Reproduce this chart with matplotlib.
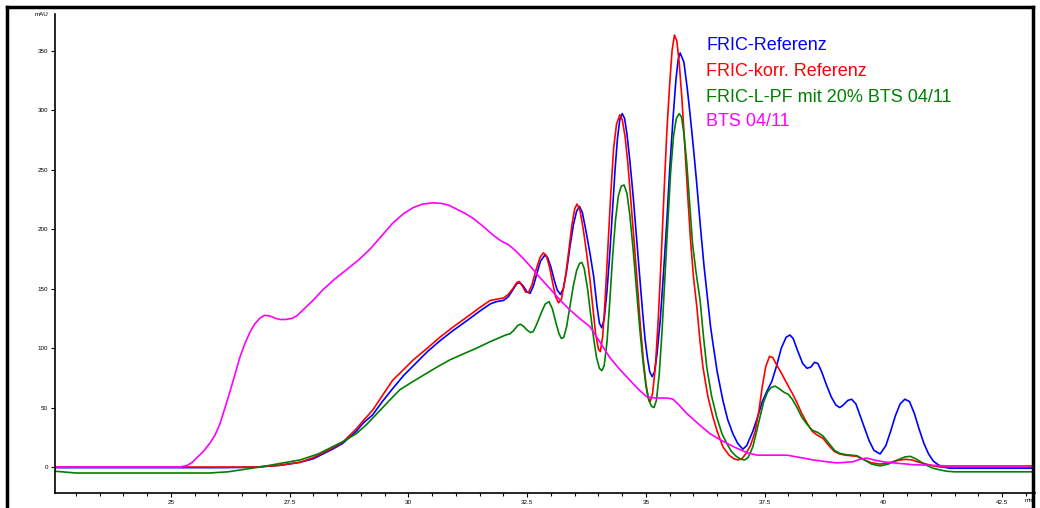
import matplotlib
matplotlib.use("Agg")
import matplotlib.pyplot as plt
from matplotlib.lines import Line2D
from matplotlib.ticker import MultipleLocator, FuncFormatter

plt.rcParams['font.family'] = ['Liberation Sans', 'DejaVu Sans']

# ---- data (time in min, signal in mAU) ----
blue_t = [22.56, 26.0, 26.5, 26.8, 27.3, 27.72, 28.0, 28.2, 28.4, 28.62, 28.9, 29.05, 29.25, 29.45, 29.67, 29.9,
          30.1, 30.4, 30.66, 30.95, 31.23, 31.5, 31.72, 31.85, 32.0, 32.1, 32.2, 32.28, 32.35, 32.42, 32.5, 32.56,
          32.63, 32.7, 32.78, 32.87, 32.93, 33.0, 33.07, 33.13, 33.2, 33.26, 33.33, 33.4, 33.47, 33.54, 33.6, 33.66,
          33.73, 33.82, 33.9, 33.97, 34.02, 34.07, 34.12, 34.18, 34.24, 34.3, 34.35, 34.4, 34.45, 34.5, 34.55, 34.6,
          34.66, 34.73, 34.8, 34.87, 34.93, 34.98, 35.03, 35.08, 35.13, 35.18, 35.23, 35.3, 35.37, 35.44, 35.5, 35.57,
          35.63, 35.68, 35.72, 35.8, 35.87, 35.93, 36.0, 36.07, 36.14, 36.22, 36.3, 36.36, 36.41, 36.5, 36.62, 36.72,
          36.83, 36.93, 37.04, 37.12, 37.25, 37.35, 37.45, 37.55, 37.65, 37.75, 37.85, 37.95, 38.03, 38.1, 38.2, 38.3,
          38.39, 38.47, 38.55, 38.62, 38.7, 38.8, 38.9, 39.0, 39.08, 39.15, 39.25, 39.33, 39.42, 39.5, 39.6, 39.7,
          39.8, 39.93, 40.05, 40.15, 40.25, 40.35, 40.45, 40.55, 40.65, 40.75, 40.85, 40.95, 41.05, 41.15, 41.25, 41.4,
          43.19]
blue_v = [-0.5, -0.5, -0.3, 0, 1.5, 4, 7, 11, 15, 20, 30, 37, 44, 55, 66, 77,
          85, 97, 106, 115, 123, 131, 137, 139, 140, 143, 149, 154, 155, 152, 147, 146,
          152, 162, 173, 178, 176, 168, 157, 149, 145, 150, 165, 185, 203, 215, 219, 214,
          200, 180, 160, 135, 121, 117, 124, 148, 180, 218, 250, 276, 292, 297, 293, 280,
          258, 228, 194, 160, 130, 108, 92, 80, 76, 80, 94, 123, 163, 207, 250, 293,
          325, 343, 348, 340, 318, 296, 268, 238, 205, 170, 140, 118, 104, 80, 56, 40,
          28, 20, 15, 18, 30, 42, 55, 64, 72, 85, 100, 109, 111, 108, 97, 87,
          83, 84, 88, 87, 80, 69, 59, 52, 50, 52, 56, 57, 53, 44, 33, 22,
          14, 11, 18, 30, 43, 53, 57, 55, 45, 32, 20, 11, 5, 2, 0, -1,
          -1]

red_t = [22.56, 26.8, 27.3, 27.72, 28.0, 28.2, 28.4, 28.62, 28.9, 29.05, 29.25, 29.45, 29.67, 29.9, 30.1, 30.4,
         30.66, 30.95, 31.23, 31.5, 31.72, 31.85, 32.0, 32.1, 32.2, 32.28, 32.33, 32.4, 32.47, 32.53, 32.6, 32.68,
         32.77, 32.84, 32.9, 32.97, 33.04, 33.1, 33.16, 33.22, 33.3, 33.37, 33.44, 33.5, 33.55, 33.61, 33.68, 33.75,
         33.82, 33.88, 33.94, 34.0, 34.04, 34.09, 34.14, 34.2, 34.26, 34.32, 34.38, 34.45, 34.5, 34.56, 34.62, 34.68,
         34.75, 34.82, 34.88, 34.94, 35.0, 35.05, 35.09, 35.14, 35.2, 35.26, 35.32, 35.38, 35.44, 35.5, 35.55, 35.6,
         35.65, 35.7, 35.76, 35.82, 35.88, 35.94, 36.0, 36.07, 36.14, 36.2, 36.3, 36.41, 36.5, 36.62, 36.75, 36.85,
         36.94, 37.02, 37.1, 37.2, 37.3, 37.38, 37.45, 37.52, 37.6, 37.67, 37.75, 37.85, 37.97, 38.08, 38.18, 38.28,
         38.39, 38.5, 38.6, 38.73, 38.85, 38.97, 39.08, 39.2, 39.32, 39.44, 39.6, 39.75, 39.93, 40.1, 40.3, 40.45,
         40.6, 40.75, 40.9, 41.05, 41.2, 43.19]
red_v = [0, 0, 1.5, 4, 8, 12, 16, 21, 32, 39, 48, 60, 73, 82, 90, 100,
         109, 118, 126, 134, 140, 141, 142, 145, 150, 155, 156, 152, 147, 147, 153, 165,
         176, 180, 178, 168, 154, 143, 138, 141, 158, 180, 203, 217, 221, 216, 200, 180,
         158, 135, 112, 99, 97, 110, 140, 185, 230, 268, 288, 296, 292, 278, 255, 225,
         190, 153, 120, 92, 70, 58, 55, 62, 85, 125, 175, 230, 282, 322, 350, 363,
         358, 340, 308, 268, 228, 190, 160, 135, 105, 84, 60, 42, 30, 17, 10, 7,
         6, 7, 11, 18, 30, 48, 68, 84, 93, 92, 86, 79, 70, 62, 54, 45,
         37, 30, 27, 24, 18, 13, 11, 10, 9.5, 9, 6, 3.5, 2.5, 3.5, 5.5, 6.5,
         6, 4, 2.5, 1, 0, 0]

green_t = [22.56, 23.0, 25.8, 26.2, 26.45, 26.87, 27.3, 27.72, 28.1, 28.4, 28.65, 28.9, 29.1, 29.34, 29.6, 29.82,
           30.1, 30.39, 30.6, 30.87, 31.15, 31.44, 31.7, 31.93, 32.05, 32.14, 32.22, 32.3, 32.36, 32.43, 32.5, 32.57,
           32.63, 32.7, 32.8, 32.88, 32.96, 33.03, 33.1, 33.17, 33.22, 33.27, 33.33, 33.4, 33.47, 33.54, 33.6, 33.65,
           33.7, 33.77, 33.83, 33.9, 33.96, 34.02, 34.07, 34.12, 34.18, 34.24, 34.3, 34.36, 34.42, 34.48, 34.54, 34.6,
           34.66, 34.73, 34.8, 34.87, 34.94, 35.0, 35.06, 35.12, 35.17, 35.22, 35.28, 35.34, 35.4, 35.46, 35.52, 35.58,
           35.64, 35.7, 35.75, 35.8, 35.86, 35.92, 35.98, 36.05, 36.14, 36.21, 36.28, 36.38, 36.49, 36.6, 36.7, 36.8,
           36.9, 37.0, 37.08, 37.15, 37.25, 37.33, 37.4, 37.48, 37.56, 37.64, 37.72, 37.8, 37.9, 38.0, 38.08, 38.18,
           38.28, 38.39, 38.5, 38.62, 38.73, 38.85, 38.97, 39.08, 39.2, 39.32, 39.44, 39.6, 39.75, 39.93, 40.1, 40.3,
           40.45, 40.56, 40.68, 40.8, 40.93, 41.05, 41.2, 41.33, 41.5, 43.19]
green_v = [-3.5, -5, -5, -4, -2.5, 0, 3, 6, 11, 17, 22, 28, 35, 45, 56, 65,
           72, 79, 84, 90, 95, 100, 105, 109, 111, 112, 115, 119, 120, 118, 115, 113,
           114, 120, 130, 137, 139, 133, 122, 112, 108, 109, 118, 135, 152, 165, 171, 172,
           167, 150, 130, 108, 92, 83, 81, 85, 105, 140, 178, 208, 228, 236, 237, 230,
           212, 183, 150, 116, 88, 68, 56, 51, 50, 56, 78, 115, 160, 205, 248, 278,
           293, 297, 294, 280, 255, 222, 188, 165, 140, 110, 84, 60, 42, 28, 20, 13,
           9, 6.5, 6, 8, 17, 30, 42, 55, 63, 67, 68, 66, 63, 61, 57, 50,
           42, 36, 31, 29, 26, 20, 14, 11.5, 10.5, 10, 9.5, 6, 2.5, 1, 2.5, 6,
           8.5, 9, 7, 4, 1, -1, -2.5, -3.5, -4, -4]

mag_t = [22.56, 25.2, 25.35, 25.45, 25.55, 25.68, 25.82, 25.93, 26.03, 26.14, 26.24, 26.35, 26.45, 26.55, 26.66, 26.76,
         26.87, 26.97, 27.08, 27.2, 27.3, 27.42, 27.55, 27.65, 27.78, 27.99, 28.2, 28.45, 28.7, 28.95, 29.19, 29.43,
         29.67, 29.9, 30.1, 30.3, 30.52, 30.7, 30.85, 31.05, 31.2, 31.36, 31.55, 31.78, 31.95, 32.1, 32.25, 32.4,
         32.56, 32.75, 33.0, 33.2, 33.4, 33.6, 33.82, 34.0, 34.24, 34.45, 34.66, 34.85, 35.02, 35.2, 35.45, 35.57,
         35.7, 35.86, 36.0, 36.14, 36.35, 36.56, 36.85, 37.13, 37.34, 37.6, 37.97, 38.25, 38.52, 38.8, 39.02, 39.2,
         39.36, 39.5, 39.65, 39.85, 40.07, 40.35, 40.62, 41.0, 41.33, 43.19]
mag_v = [0, 0, 1.5, 4, 8, 13, 20, 27, 36, 50, 63, 78, 92, 103, 113, 120,
         125, 127.5, 127, 125, 124, 124, 125, 127, 132, 140, 149, 158, 166, 174, 183, 194,
         205, 213, 218, 221, 222, 221.5, 220, 216, 213, 209, 203, 195, 190, 187, 182, 176,
         169, 160, 149, 140, 132, 125, 118, 107, 92, 82, 73, 65, 59, 58, 58, 57,
         52, 45, 40, 35, 28, 23, 17, 12, 10, 10, 10, 8, 6, 4.5, 3.5, 4,
         4.5, 6.5, 7.5, 5.5, 4, 3, 2, 1.5, 1, 1]

labels = ["FRIC-Referenz", "FRIC-korr. Referenz", "FRIC-L-PF mit 20% BTS 04/11", "BTS 04/11"]
colors = ["#0000ff", "#ff0000", "#008000", "#ff00ff"]

x_ticks = [25, 27.5, 30, 32.5, 35, 37.5, 40, 42.5]
y_ticks = [0, 50, 100, 150, 200, 250, 300, 350]

# ---- figure ----
fig = plt.figure(figsize=(10.4, 5.08), dpi=100)
ax = fig.add_axes([55/1040, 15/508, 980/1040, 479/508])

series = [(blue_t, blue_v), (red_t, red_v), (green_t, green_v), (mag_t, mag_v)]
for (t, v), c in zip(series, colors):
    ax.plot(t, v, color=c, lw=1.2)

ax.set_xlim(22.56, 43.19)
ax.set_ylim(-21.8, 380.7)
ax.set_xticks(x_ticks)
ax.set_yticks(y_ticks)
ax.xaxis.set_minor_locator(MultipleLocator(0.5))
ax.xaxis.set_major_formatter(FuncFormatter(lambda v, p: f"{v:g}"))
ax.tick_params(axis='both', which='major', length=3, width=0.8, labelsize=4.5, pad=2)
ax.tick_params(axis='x', which='minor', length=2, width=0.8)
for s in ['top', 'right']:
    ax.spines[s].set_visible(False)
for s in ['left', 'bottom']:
    ax.spines[s].set_linewidth(1.2)

fig.text(48/1040, 1 - 15/508, "mAU", fontsize=4.5, ha='right', va='center')
fig.text(1030/1040, 1 - 501/508, "min", fontsize=4.5, ha='center', va='center')

# legend texts
ys = [45, 71, 97, 121]
for lab, c, y in zip(labels, colors, ys):
    fig.text(706/1040, 1 - y/508, lab, color=c, fontsize=13, ha='left', va='center')

# figure frame
for xs, yy in [([7/1040, 7/1040], [0, 1 - 7/508]), ([7/1040, 1033/1040], [1 - 7/508, 1 - 7/508]),
               ([1033/1040, 1033/1040], [0, 1 - 7/508])]:
    fig.add_artist(Line2D(xs, yy, color='black', lw=2.5, transform=fig.transFigure))

fig.savefig("out.png", dpi=100)
